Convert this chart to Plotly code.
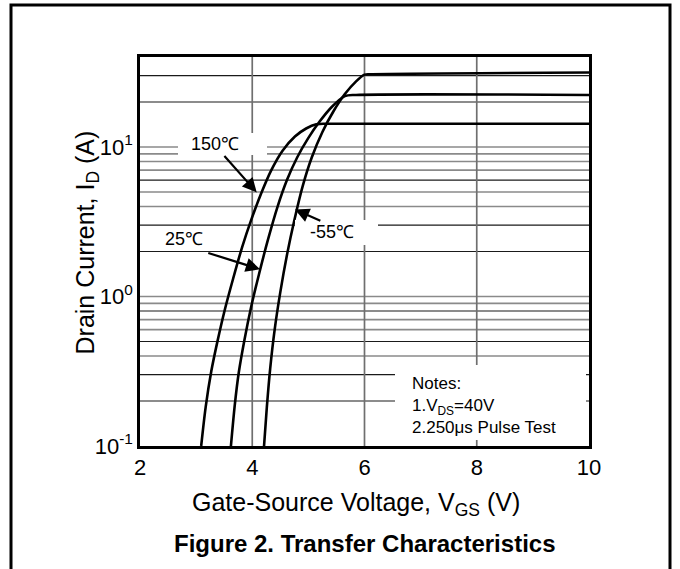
import math
import plotly.graph_objects as go

# ---------------- data ----------------
vgs_150 = [3.09, 3.17, 3.27, 3.38, 3.51, 3.66, 3.82, 3.98, 4.16, 4.34, 4.54, 4.76, 4.96, 5.14, 5.35, 10.0]
id_150 = [0.10, 0.182, 0.316, 0.501, 0.813, 1.32, 2.14, 3.24, 4.90, 7.0, 9.44, 11.75, 13.3, 14.2, 14.3, 14.3]

vgs_25 = [3.62, 3.69, 3.76, 3.86, 3.98, 4.12, 4.28, 4.45, 4.62, 4.80, 5.00, 5.20, 5.42, 5.65, 5.85, 10.0]
id_25 = [0.10, 0.19, 0.31, 0.51, 0.85, 1.41, 2.40, 3.98, 6.03, 8.51, 11.5, 14.8, 18.6, 21.9, 22.3, 22.3]

vgs_m55 = [4.21, 4.26, 4.32, 4.40, 4.50, 4.62, 4.75, 4.90, 5.06, 5.25, 5.45, 5.65, 5.85, 6.00, 6.10, 10.0]
id_m55 = [0.10, 0.182, 0.331, 0.603, 1.07, 1.91, 3.24, 5.50, 8.51, 12.6, 17.4, 22.6, 27.5, 30.5, 30.7, 31.5]

x_ticks = [2, 4, 6, 8, 10]
y_ticks = [0.1, 1, 10]
y_ticktext = ["10<sup>-1</sup>", "10<sup>0</sup>", "10<sup>1</sup>"]
x_grid = [4, 6, 8]
y_grid_dark = [0.2, 0.3, 0.5, 0.8, 2, 3, 6, 20, 30]
y_grid_gray = [0.4, 0.6, 0.7, 0.9, 1, 4, 5, 7, 8, 9, 10]
x_range = [2, 10]
y_range = [0.1, 40]

FONT = "Liberation Sans, Arial, Helvetica, sans-serif"

# ---------------- layout geometry (pixels) ----------------
W, H = 680, 569
L, R, T, B = 140, 589, 57, 446


def px(xp):
    return (xp - L) / (R - L)


def py(yp):
    return (B - yp) / (B - T)


fig = go.Figure()

# gridlines
for v in y_grid_gray:
    fig.add_trace(go.Scatter(x=x_range, y=[v, v], mode="lines",
                             line=dict(color="#8a8a8a", width=1.7),
                             hoverinfo="skip", showlegend=False))
for v in y_grid_dark:
    fig.add_trace(go.Scatter(x=x_range, y=[v, v], mode="lines",
                             line=dict(color="#1a1a1a", width=1.2),
                             hoverinfo="skip", showlegend=False))
for v in x_grid:
    fig.add_trace(go.Scatter(x=[v, v], y=y_range, mode="lines",
                             line=dict(color="#6f6f6f", width=1.7),
                             hoverinfo="skip", showlegend=False))

# curves
for xs, ys in [(vgs_150, id_150), (vgs_25, id_25), (vgs_m55, id_m55)]:
    fig.add_trace(go.Scatter(x=xs, y=ys, mode="lines",
                             line=dict(color="black", width=2.6, shape="spline", smoothing=0.8),
                             hoverinfo="skip", showlegend=False))

shapes = []
# white boxes covering gridlines
for (x0, x1, y0, y1) in [(178, 267, 133, 155), (295, 378, 220, 245), (395, 586, 365, 440)]:
    shapes.append(dict(type="rect", xref="paper", yref="paper",
                       x0=px(x0), x1=px(x1), y0=py(y1), y1=py(y0),
                       fillcolor="white", line=dict(width=0), layer="above"))
# outer frame
shapes.append(dict(type="rect", xref="paper", yref="paper",
                   x0=px(11), x1=px(670), y0=py(590), y1=py(5),
                   fillcolor="rgba(0,0,0,0)", line=dict(color="black", width=3), layer="above"))

annotations = []


def lg(v):
    return math.log10(v)


# temperature labels
annotations.append(dict(x=3.34, y=lg(10.5), xref="x", yref="y", text="150℃",
                        showarrow=False, font=dict(family=FONT, size=18, color="black")))
annotations.append(dict(x=2.78, y=lg(2.44), xref="x", yref="y", text="25℃",
                        showarrow=False, font=dict(family=FONT, size=18, color="black")))
annotations.append(dict(x=5.42, y=lg(2.71), xref="x", yref="y", text="-55℃",
                        showarrow=False, font=dict(family=FONT, size=18, color="black")))

# arrows (head at x,y ; tail at ax,ay)
for (hx, hy, tx, ty) in [(4.08, 4.97, 3.48, 8.9), (4.14, 1.52, 3.19, 1.97), (4.76, 3.82, 5.24, 3.18)]:
    annotations.append(dict(x=hx, y=lg(hy), ax=tx, ay=lg(ty), xref="x", yref="y",
                            axref="x", ayref="y", text="", showarrow=True,
                            arrowhead=2, arrowsize=1.3, arrowwidth=2.2, arrowcolor="black",
                            standoff=0, startstandoff=0))

# notes
for txt, yc in [("Notes:", 383), ("1.V<sub>DS</sub>=40V", 406.5), ("2.250μs Pulse Test", 427)]:
    annotations.append(dict(x=px(410), y=py(yc), xref="paper", yref="paper", text=txt,
                            xanchor="left", yanchor="middle", showarrow=False,
                            font=dict(family=FONT, size=17, color="black")))

# axis titles and figure caption
annotations.append(dict(x=px(356), y=py(504), xref="paper", yref="paper",
                        text="Gate-Source Voltage, V<sub>GS</sub> (V)", showarrow=False,
                        xanchor="center", yanchor="middle",
                        font=dict(family=FONT, size=25, color="black")))
annotations.append(dict(x=px(86), y=py(242.5), xref="paper", yref="paper",
                        text="Drain Current, I<sub>D</sub> (A)", showarrow=False, textangle=-90,
                        xanchor="center", yanchor="middle",
                        font=dict(family=FONT, size=25, color="black")))
annotations.append(dict(x=px(365), y=py(543), xref="paper", yref="paper",
                        text="<b>Figure 2. Transfer Characteristics</b>", showarrow=False,
                        xanchor="center", yanchor="middle",
                        font=dict(family=FONT, size=24, color="black")))

fig.update_layout(
    width=W, height=H,
    margin=dict(l=L, r=W - R, t=T, b=H - B, pad=0),
    paper_bgcolor="white", plot_bgcolor="white",
    showlegend=False,
    shapes=shapes, annotations=annotations,
    xaxis=dict(range=x_range, tickvals=x_ticks, ticktext=[str(v) for v in x_ticks],
               showgrid=False, zeroline=False, showline=True, mirror=True,
               linecolor="black", linewidth=2.5, ticks="",
               tickfont=dict(family=FONT, size=22, color="black")),
    yaxis=dict(type="log", range=[lg(y_range[0]), lg(y_range[1])],
               tickvals=y_ticks, ticktext=y_ticktext,
               showgrid=False, zeroline=False, showline=True, mirror=True,
               linecolor="black", linewidth=2.5, ticks="",
               tickfont=dict(family=FONT, size=22, color="black")),
)

fig.write_html("out.html")
